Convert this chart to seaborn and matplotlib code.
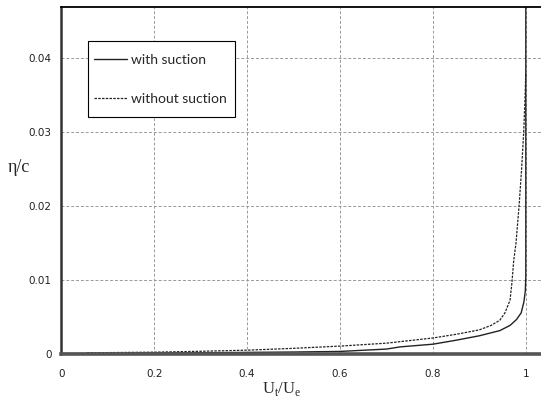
import numpy as np
import pandas as pd
import matplotlib
matplotlib.use("Agg")
import matplotlib.pyplot as plt
from matplotlib.patches import Rectangle
import seaborn as sns

# --- data ---
u_with = [0.0, 0.1, 0.2, 0.3, 0.4, 0.5, 0.6, 0.7, 0.73, 0.8, 0.85, 0.9, 0.944,
          0.966, 0.98, 0.99, 0.996, 0.999, 1.0, 1.0]
eta_with = [0.0, 0.00002, 0.00005, 0.0001, 0.00015, 0.0002, 0.00028, 0.0006,
            0.0009, 0.00126, 0.0018, 0.0024, 0.0031, 0.0038, 0.0046, 0.0055,
            0.007, 0.0085, 0.0105, 0.048]

u_without = [0.055, 0.1, 0.2, 0.3, 0.4, 0.5, 0.6, 0.7, 0.8, 0.85, 0.9, 0.925,
             0.944, 0.955, 0.966, 0.970, 0.974, 0.979, 0.9855, 0.991, 0.9955,
             0.998, 1.0]
eta_without = [0.0001, 0.00012, 0.00018, 0.0003, 0.00045, 0.0007, 0.001, 0.0014,
               0.0021, 0.0026, 0.0032, 0.0038, 0.0045, 0.0055, 0.0072, 0.0095,
               0.0126, 0.015, 0.020, 0.025, 0.030, 0.034, 0.038]

series_labels = ["with suction", "without suction"]
x_ticks = [0, 0.2, 0.4, 0.6, 0.8, 1]
x_ticklabels = ["0", "0.2", "0.4", "0.6", "0.8", "1"]
y_ticks = [0, 0.01, 0.02, 0.03, 0.04]
y_ticklabels = ["0", "0.01", "0.02", "0.03", "0.04"]

df_with = pd.DataFrame({"U": u_with, "eta": eta_with})
df_without = pd.DataFrame({"U": u_without, "eta": eta_without})

sns.set_style("white")
plt.rcParams['font.family'] = ['DejaVu Sans']

W, H = 541, 401
AX_L, AX_B_PX, AX_W, AX_H = 61.3, 353.5, 541 - 61.3, 347


def ax_x(px):
    return (px - AX_L) / AX_W


def ax_y(py):
    return (AX_B_PX - py) / AX_H


fig = plt.figure(figsize=(5.41, 4.01), dpi=100)
ax = fig.add_axes([AX_L / W, (H - AX_B_PX) / H, AX_W / W, AX_H / H])

sns.lineplot(data=df_with, x="U", y="eta", ax=ax, sort=False, estimator=None,
             color="#222222", linewidth=1.0, label=series_labels[0])
sns.lineplot(data=df_without, x="U", y="eta", ax=ax, sort=False, estimator=None,
             color="#222222", linewidth=0.9, linestyle=(0, (2, 1)),
             label=series_labels[1])

ax.set_xlim(0, (541 - 61.3) / 464.5)
ax.set_ylim(0, 0.047)
ax.set_xticks(x_ticks)
ax.set_xticklabels(x_ticklabels)
ax.set_yticks(y_ticks)
ax.set_yticklabels(y_ticklabels)
ax.tick_params(axis='both', length=0, labelsize=7.5, colors="#222222")
ax.tick_params(axis='x', pad=11)
ax.tick_params(axis='y', pad=7)

ax.grid(True, color="#999999", linestyle=(0, (3, 2)), linewidth=0.7)
ax.set_axisbelow(True)

ax.spines['right'].set_visible(False)
ax.spines['top'].set_color("black")
ax.spines['top'].set_linewidth(1.3)
ax.spines['left'].set_color("#333333")
ax.spines['left'].set_linewidth(1.8)
ax.spines['bottom'].set_color("#555555")
ax.spines['bottom'].set_linewidth(2.6)

ax.set_xlabel(r"U$_\mathregular{t}$/U$_\mathregular{e}$", family="Liberation Serif",
              fontsize=12)
ax.xaxis.set_label_coords(ax_x(282), ax_y(389))
ax.xaxis.label.set_va("center")
ax.set_ylabel("η/c", family="Liberation Serif", fontsize=13, rotation=0)
ax.yaxis.set_label_coords(ax_x(19), ax_y(168))
ax.yaxis.label.set_va("center")
ax.yaxis.label.set_ha("center")

# legend frame drawn as a box, legend entries on top without their own frame
box = Rectangle((ax_x(88), ax_y(117)), ax_x(235) - ax_x(88), ax_y(40.7) - ax_y(117),
                transform=ax.transAxes, facecolor="white", edgecolor="black",
                linewidth=0.8, zorder=4.5, clip_on=False)
ax.add_patch(box)
leg = ax.legend(loc="upper left", bbox_to_anchor=(ax_x(94), ax_y(54)),
                borderaxespad=0, frameon=False, prop={"family": "Lato", "size": 10},
                handlelength=2.37, handletextpad=0.29, labelspacing=1.95,
                borderpad=0)
leg.set_zorder(5)

fig.savefig("out.png", dpi=100)
